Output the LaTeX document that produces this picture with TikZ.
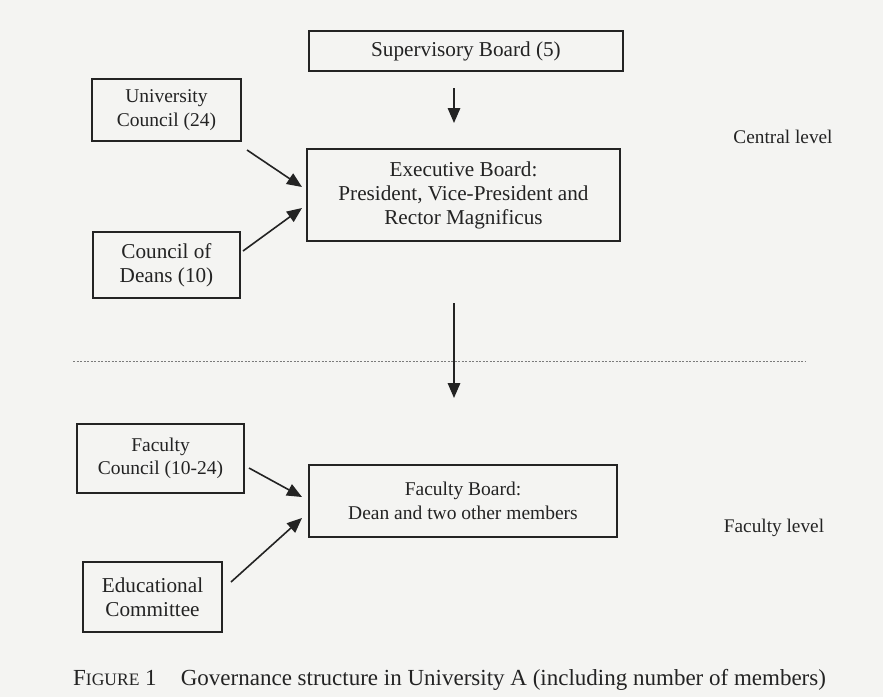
\documentclass[tikz,border=0pt]{standalone}
\usepackage{fontspec}
\setmainfont{Liberation Serif}
\usetikzlibrary{arrows.meta}
\definecolor{paper}{RGB}{244,244,242}
\definecolor{ink}{RGB}{35,35,35}
\begin{document}
\begin{tikzpicture}[x=1pt,y=-1pt,
  box/.style={draw=ink,line width=1.3pt,text=ink,align=center,inner sep=0pt,
    font=\fontsize{19.5}{23.5}\selectfont},
  big/.style={font=\fontsize{21.2}{24}\selectfont},
  arr/.style={draw=ink,line width=1.6pt,-{Triangle[length=15pt,width=12.5pt]}},
  lbl/.style={text=ink,font=\fontsize{19.3}{23.5}\selectfont}]
\fill[paper] (0,0) rectangle (883,697);
\useasboundingbox (0,0) rectangle (883,697);
% nodes
\node[box,big,minimum width=314pt,minimum height=40pt] (sup) at (466,51) {Supervisory Board (5)};
\node[box,minimum width=149pt,minimum height=62pt] (uc) at (166.5,110) {University\\Council (24)};
\node[box,big,minimum width=313pt,minimum height=92pt] (exec) at (463.5,195) {Executive Board:\\President, Vice-President and\\Rector Magnificus};
\node[box,big,minimum width=147pt,minimum height=66pt] (cd) at (166.5,265) {Council of\\Deans (10)};
\node[box,minimum width=167pt,minimum height=69pt] (fc) at (160.5,458.5) {Faculty\\Council (10-24)};
\node[box,minimum width=308pt,minimum height=72pt] (fb) at (463,501) {Faculty Board:\\Dean and two other members};
\node[box,big,minimum width=139pt,minimum height=70pt] (ec) at (152.5,597) {Educational\\Committee};
\node[lbl] (central) at (783,137) {Central level};
\node[lbl] (faculty) at (774,528) {Faculty level};
\node[text=ink,anchor=west,inner sep=0pt,font=\fontsize{23}{26}\selectfont] (cap) at (73,680)
  {F{\fontsize{17.5}{20}\selectfont IGURE} 1\hspace{1.05em}Governance structure in University A (including number of members)};
% arrow end points
\coordinate (a1s) at (454,88);  \coordinate (a1e) at (454,123);
\coordinate (a2s) at (247,150); \coordinate (a2e) at (302,187);
\coordinate (a3s) at (243,251); \coordinate (a3e) at (302,208);
\coordinate (a4s) at (454,303); \coordinate (a4e) at (454,398);
\coordinate (a5s) at (249,468); \coordinate (a5e) at (302,497);
\coordinate (a6s) at (231,582); \coordinate (a6e) at (302,518);
\draw[arr] (a1s) -- (a1e);
\draw[arr] (a2s) -- (a2e);
\draw[arr] (a3s) -- (a3e);
\draw[arr] (a4s) -- (a4e);
\draw[arr] (a5s) -- (a5e);
\draw[arr] (a6s) -- (a6e);
% dashed divider
\coordinate (dl) at (73,361); \coordinate (dr) at (806,361);
\draw[ink!60,line width=0.9pt,dash pattern=on 2pt off 1.5pt] (dl) -- (dr);
\end{tikzpicture}
\end{document}
